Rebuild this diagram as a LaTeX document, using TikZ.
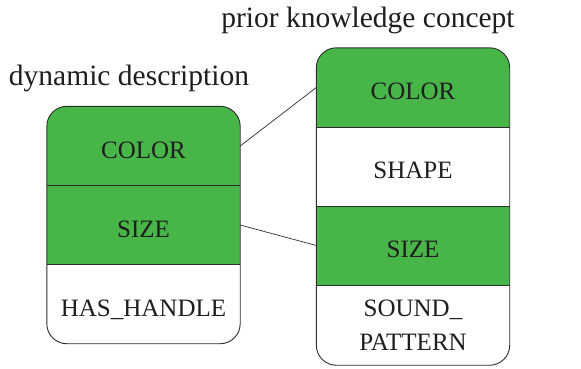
\documentclass[tikz,border=0pt]{standalone}
\usepackage{fontspec}
\setmainfont{Liberation Serif}
\usepackage{xcolor}
\definecolor{cgreen}{RGB}{72,181,72}
\definecolor{cline}{RGB}{45,45,45}
\definecolor{ctext}{RGB}{30,30,30}
\usetikzlibrary{backgrounds}

\begin{document}
\begin{tikzpicture}[
  x=1pt,y=-1pt,
  every node/.style={font=\fontsize{25}{34}\selectfont,text=ctext},
  rowbox/.style={minimum width=193pt,minimum height=79pt,inner sep=0pt,align=center},
  cell/.style={rowbox,text height=24pt,text depth=0pt},
  titletext/.style={font=\fontsize{29.5}{30}\selectfont,anchor=base},
  boxline/.style={draw=cline,line width=0.9pt},
]
  \useasboundingbox (0,0) rectangle (581,368);

  % Titles
  \node[titletext] (ttl) at (129,85) {dynamic description};
  \node[titletext] (ttr) at (368,27) {prior knowledge concept};

  % Dynamic description
  \node[cell] (dcolor)  at (143.5,146)   {COLOR};
  \node[cell] (dsize)   at (143.5,225)   {SIZE};
  \node[cell] (dhandle) at (143.5,304)   {HAS\_HANDLE};

  % Prior knowledge concept
  \node[cell] (pcolor) at (413,87.5)  {COLOR};
  \node[cell] (pshape) at (413,166.5) {SHAPE};
  \node[cell] (psize)  at (413,245.5) {SIZE};
  \node[rowbox] (psound) at (413,325.5) {SOUND\_\\PATTERN};

  \begin{scope}[on background layer]
    \begin{scope}
      \clip[rounded corners=20pt] (dcolor.north west) rectangle (dhandle.south east);
      \fill[cgreen] (dcolor.north west) rectangle (dsize.south east);
    \end{scope}
    \begin{scope}
      \clip[rounded corners=20pt] (pcolor.north west) rectangle (psound.south east);
      \fill[cgreen] (pcolor.north west) rectangle (pcolor.south east);
      \fill[cgreen] (psize.north west) rectangle (psize.south east);
    \end{scope}
  \end{scope}

  % Outlines
  \draw[boxline,rounded corners=20pt] (dcolor.north west) rectangle (dhandle.south east);
  \draw[boxline] (dcolor.south west) -- (dcolor.south east);
  \draw[boxline] (dsize.south west) -- (dsize.south east);
  \draw[boxline,rounded corners=20pt] (pcolor.north west) rectangle (psound.south east);
  \draw[boxline] (pcolor.south west) -- (pcolor.south east);
  \draw[boxline] (pshape.south west) -- (pshape.south east);
  \draw[boxline] (psize.south west) -- (psize.south east);

  % Links
  \draw[cline,line width=0.7pt] (dcolor.east) -- (pcolor.west);
  \draw[cline,line width=0.7pt] (dsize.east) -- (psize.west);
\end{tikzpicture}
\end{document}
